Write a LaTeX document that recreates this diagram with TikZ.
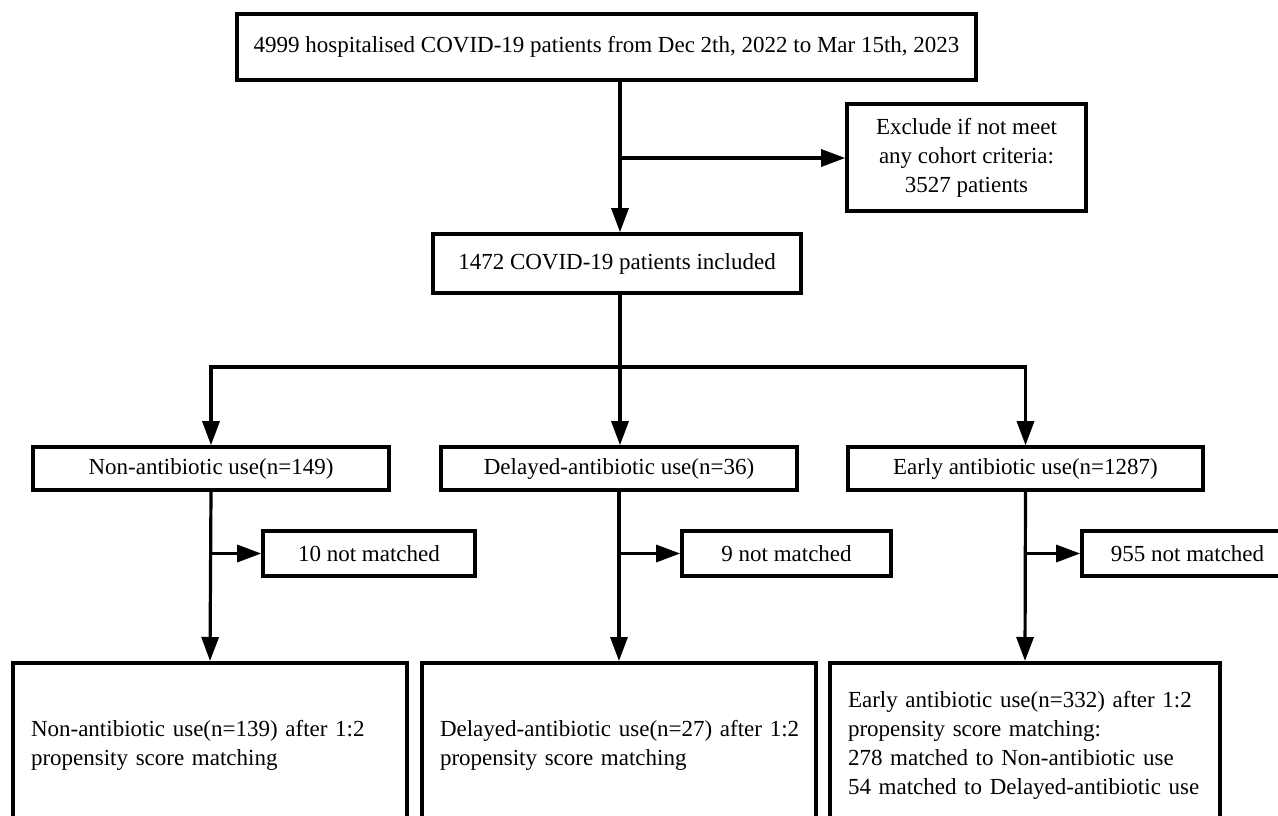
\documentclass[tikz,border=0pt]{standalone}
\usepackage{fontspec}
\setmainfont{Liberation Serif}
\usetikzlibrary{arrows.meta,calc}
\begin{document}
\begin{tikzpicture}[x=1pt,y=-1pt,
  every node/.style={font=\fontsize{23}{29}\selectfont},
  box/.style={draw,line width=3.6pt,inner sep=0pt,align=center},
  lbox/.style={draw,line width=3.6pt,inner ysep=0pt,inner xsep=18pt,align=left},
  conn/.style={line width=3.2pt},
  arr/.style={conn,-{Triangle[length=24pt,width=17pt]}}]
\clip (0,0) rectangle (1278,815);
\fill[white] (0,0) rectangle (1278,815);
% boxes
\node[box,minimum width=739pt,minimum height=66pt] (top) at (606.5,47) {4999 hospitalised COVID-19 patients from Dec 2th, 2022 to Mar 15th, 2023};
\node[box,minimum width=239pt,minimum height=107pt] (excl) at (966.5,157.5) {Exclude if not meet\\any cohort criteria:\\3527 patients};
\node[box,minimum width=368pt,minimum height=59pt] (incl) at (617,263.5) {1472 COVID-19 patients included};
\node[box,minimum width=356pt,minimum height=43pt] (g1) at (211,468.5) {Non-antibiotic use(n=149)};
\node[box,minimum width=356pt,minimum height=43pt] (g2) at (619,468.5) {Delayed-antibiotic use(n=36)};
\node[box,minimum width=355pt,minimum height=43pt] (g3) at (1025.5,468.5) {Early antibiotic use(n=1287)};
\node[box,minimum width=212pt,minimum height=45pt] (n1) at (369,553.5) {10 not matched};
\node[box,minimum width=209pt,minimum height=45pt] (n2) at (786.5,553.5) {9 not matched};
\node[box,minimum width=211pt,minimum height=45pt] (n3) at (1187.5,553.5) {955 not matched};
\node[lbox,text width=358pt,minimum height=166pt,anchor=north] (f1) at (210,661) {\mbox{Non-antibiotic use(n=139) after 1:2}\\\mbox{propensity score matching}};
\node[lbox,text width=358pt,minimum height=166pt,anchor=north] (f2) at (619,661) {\mbox{Delayed-antibiotic use(n=27) after 1:2}\\\mbox{propensity score matching}};
\node[lbox,text width=354pt,minimum height=166pt,anchor=north] (f3) at (1025,661) {\mbox{Early antibiotic use(n=332) after 1:2}\\\mbox{propensity score matching:}\\\mbox{278 matched to Non-antibiotic use}\\\mbox{54 matched to Delayed-antibiotic use}};
% connectors
\coordinate (c1) at (620,158);
\coordinate (b) at (620,367);
\draw[arr] (top.south -| c1) -- (incl.north -| c1);
\draw[arr] (c1) -- (excl.west |- c1);
\draw[conn] (incl.south -| b) -- (b);
\draw[arr] (b) -| (g1.north);
\draw[arr] (b) -| (g3.north);
\draw[arr] (b) -- (g2.north -| b);
\draw[arr] (g1.south) -- (f1.north);
\draw[arr] (g2.south) -- (f2.north);
\draw[arr] (g3.south) -- (f3.north);
\coordinate (d1) at (g1.south |- n1.west);
\coordinate (d2) at (g2.south |- n2.west);
\coordinate (d3) at (g3.south |- n3.west);
\draw[arr] (d1) -- (n1.west);
\draw[arr] (d2) -- (n2.west);
\draw[arr] (d3) -- (n3.west);
\end{tikzpicture}
\end{document}
